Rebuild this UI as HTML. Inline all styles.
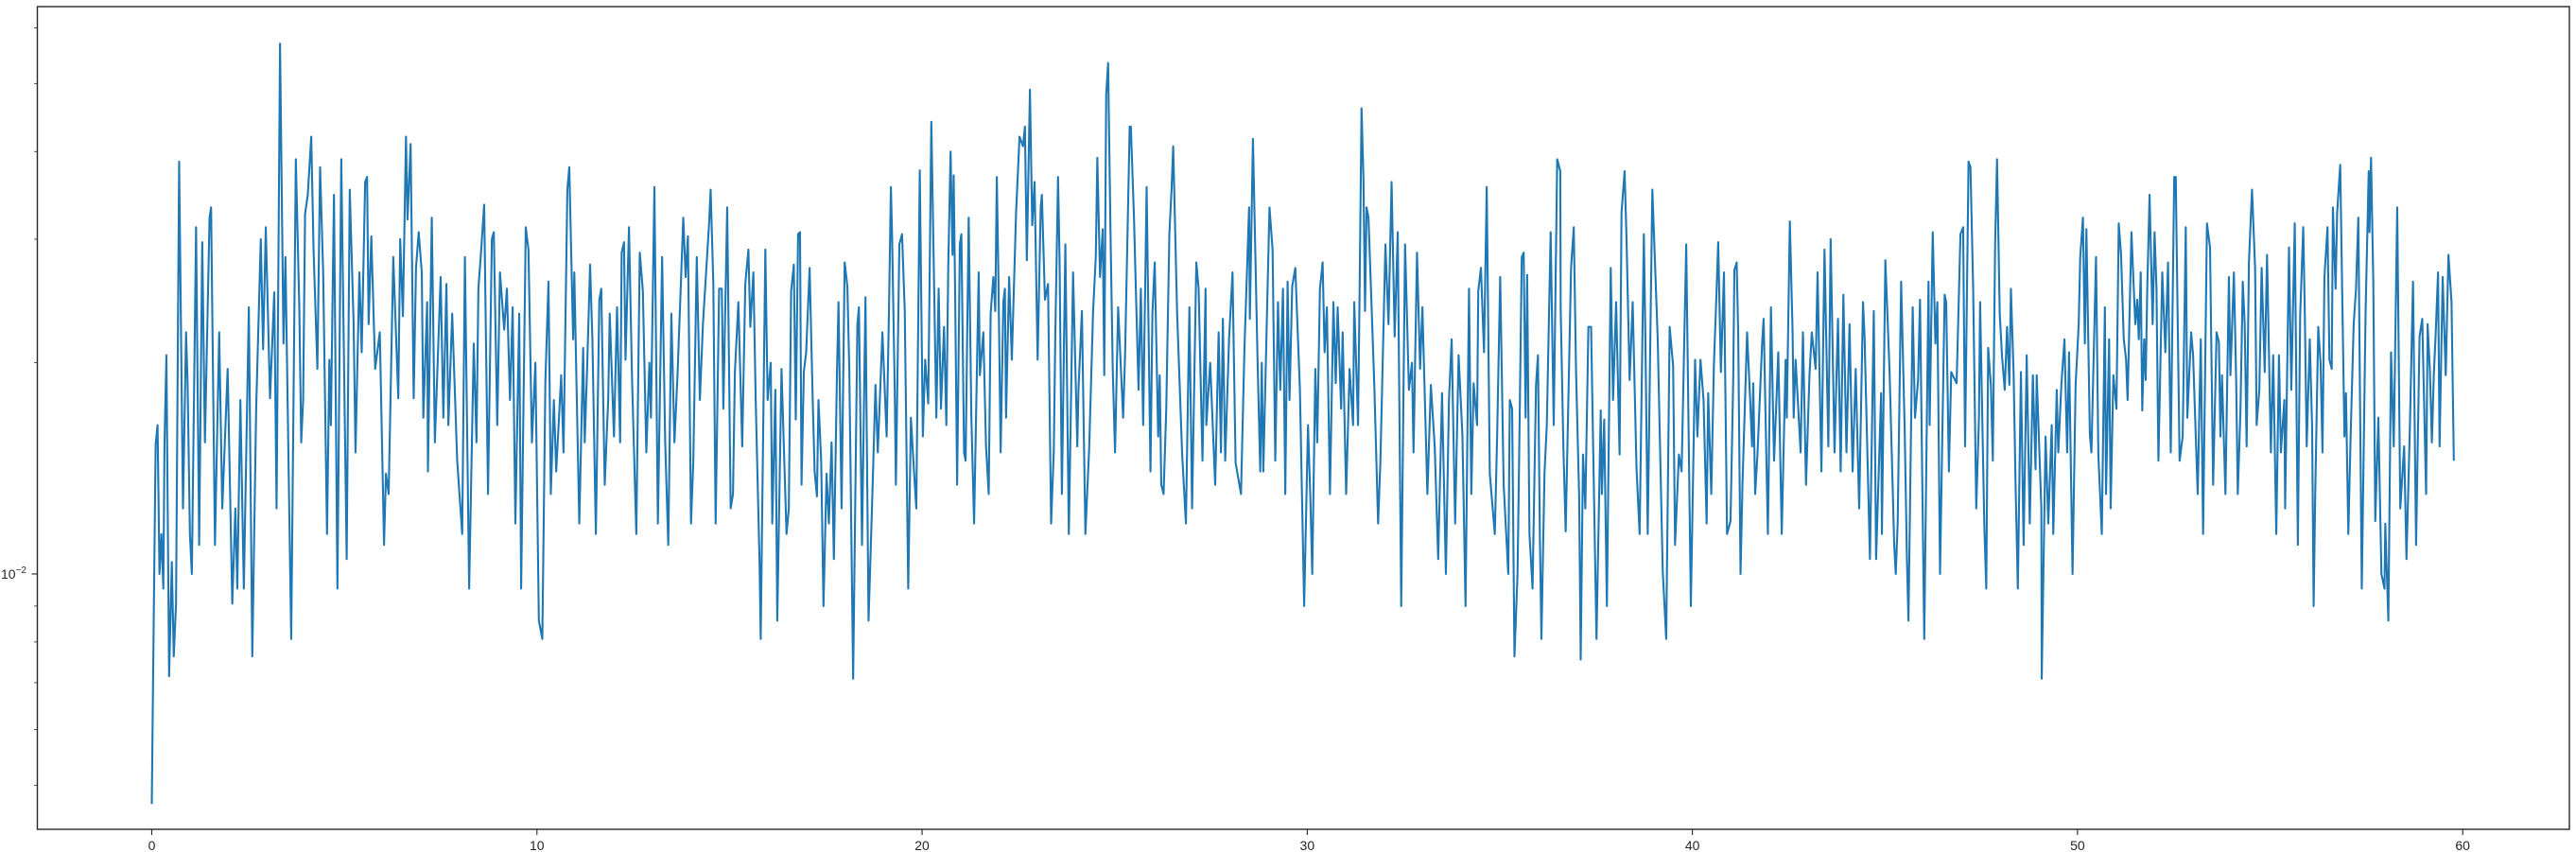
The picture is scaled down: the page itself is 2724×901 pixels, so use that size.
<!DOCTYPE html>
<html><head><meta charset="utf-8"><style>
html,body{margin:0;padding:0;background:#fff;}
svg{display:block;font-family:"Liberation Sans","DejaVu Sans",sans-serif;}
</style></head><body>
<svg id="chart" width="2724" height="901" viewBox="0 0 2724 901" xmlns="http://www.w3.org/2000/svg">
<rect x="0" y="0" width="2724" height="901" fill="#fff"/>
<g id="plot"></g>
</svg>
<script>
const xTicks = [0, 10, 20, 30, 40, 50, 60];
const xTickLabels = ["0", "10", "20", "30", "40", "50", "60"];
const yMinorTicks = [0.005, 0.006, 0.007, 0.008, 0.009, 0.02, 0.03, 0.04, 0.05, 0.06];
const yMajorTicks = [0.01];
const times = [
0.00,0.05,0.10,0.15,0.20,0.25,0.30,0.33,0.38,0.45,0.52,0.57,0.63,0.71,0.81,0.89,0.93,0.99,1.04,1.15,1.23,1.31,1.38,1.50,1.54,1.64,1.75,1.83,1.97,2.09,2.17,2.22,2.30,2.39,2.52,2.61,2.71,2.83,2.89,2.96,3.07,3.18,3.24,3.33,3.42,3.47,3.62,3.74,3.83,3.88,3.93,3.98,4.05,4.14,4.20,4.30,4.37,4.45,4.55,4.61,4.65,4.73,4.82,4.92,5.06,5.14,5.24,5.29,5.39,5.45,5.54,5.59,5.63,5.70,5.80,5.92,5.96,6.03,6.08,6.15,6.27,6.40,6.45,6.52,6.60,6.64,6.72,6.80,6.86,6.93,7.01,7.05,7.15,7.17,7.27,7.35,7.50,7.57,7.65,7.70,7.80,7.93,8.06,8.13,8.24,8.36,8.43,8.48,8.54,8.63,8.73,8.83,8.88,8.97,9.04,9.15,9.22,9.30,9.37,9.44,9.54,9.59,9.71,9.78,9.87,9.96,
10.05,10.14,10.22,10.30,10.36,10.44,10.50,10.56,10.63,10.69,10.79,10.84,10.94,10.97,11.10,11.20,11.24,11.30,11.38,11.44,11.53,11.62,11.67,11.76,11.85,11.89,12.00,12.08,12.16,12.20,12.26,12.30,12.39,12.47,12.58,12.67,12.75,12.84,12.92,12.96,13.05,13.14,13.25,13.33,13.41,13.49,13.57,13.65,13.80,13.86,13.92,14.00,14.06,14.15,14.23,14.31,14.47,14.51,14.58,14.64,14.73,14.80,14.84,14.94,15.03,15.09,15.14,15.23,15.33,15.41,15.49,15.54,15.62,15.68,15.78,15.81,15.93,15.99,16.07,16.11,16.19,16.24,16.35,16.48,16.54,16.60,16.67,16.72,16.78,16.83,16.87,16.93,16.99,17.08,17.16,17.21,17.27,17.31,17.38,17.44,17.52,17.58,17.65,17.71,17.79,17.83,17.91,17.99,18.06,18.11,18.21,18.32,18.36,18.44,18.53,18.61,18.71,18.79,18.85,18.97,19.08,19.14,19.19,19.22,19.29,19.32,19.41,19.48,19.55,19.64,19.71,19.79,19.85,19.94,20.02,20.08,20.16,20.24,
20.37,20.43,20.49,20.57,20.63,20.68,20.74,20.79,20.82,20.86,20.91,20.98,21.02,21.09,21.13,21.21,21.28,21.35,21.47,21.50,21.59,21.66,21.73,21.78,21.85,21.90,21.94,21.98,22.04,22.11,22.15,22.18,22.26,22.33,22.44,22.53,22.62,22.67,22.72,22.80,22.86,22.92,23.00,23.08,23.11,23.19,23.27,23.35,23.42,23.46,23.53,23.57,23.63,23.72,23.81,23.92,24.03,24.06,24.15,24.24,24.34,24.44,24.51,24.55,24.62,24.69,24.73,24.78,24.83,24.89,24.95,25.01,25.09,25.22,25.27,25.39,25.42,25.50,25.62,25.68,25.74,25.83,25.93,25.98,26.04,26.13,26.17,26.21,26.27,26.34,26.42,26.48,26.52,26.62,26.75,26.85,26.94,27.01,27.12,27.18,27.28,27.36,27.38,27.48,27.61,27.70,27.76,27.81,27.87,27.97,28.06,28.14,28.28,28.37,28.49,28.51,28.59,28.71,28.78,28.82,28.86,28.97,29.02,29.10,29.17,29.24,29.30,29.37,29.43,29.49,29.54,29.61,29.69,29.81,29.92,30.02,30.08,30.13,30.21,30.26,30.33,30.40,30.45,30.51,30.59,
30.68,30.74,30.79,30.88,30.92,31.01,31.10,31.19,31.22,31.32,31.36,31.41,31.46,31.50,31.54,31.59,31.74,31.84,31.90,32.03,32.11,32.19,32.27,32.35,32.44,32.54,32.64,32.72,32.76,32.85,32.93,32.99,33.12,33.21,33.31,33.40,33.50,33.60,33.68,33.75,33.84,33.93,34.03,34.11,34.20,34.26,34.32,34.41,34.44,34.51,34.59,34.66,34.74,34.87,34.93,35.01,35.10,35.22,35.26,35.32,35.38,35.46,35.50,35.57,35.62,35.67,35.71,35.77,35.85,35.94,35.99,36.04,36.08,36.16,36.22,36.32,36.40,36.49,36.57,36.58,36.65,36.71,36.81,36.85,36.92,36.98,37.06,37.10,37.16,37.22,37.30,37.37,37.43,37.51,37.62,37.65,37.71,37.78,37.88,37.94,38.02,38.11,38.16,38.24,38.29,38.37,38.45,38.55,38.63,38.74,38.78,38.84,38.96,39.02,39.10,39.23,39.32,39.41,39.50,39.55,39.65,39.72,39.84,39.96,40.07,40.13,40.21,40.29,40.37,40.41,40.49,40.56,40.62,40.67,40.74,40.82,40.90,
40.99,41.06,41.09,41.15,41.19,41.25,41.30,41.42,41.50,41.55,41.58,41.63,41.69,41.81,41.85,41.96,42.04,42.12,42.23,42.32,42.42,42.45,42.53,42.60,42.63,42.68,42.81,42.87,42.95,43.04,43.10,43.20,43.25,43.35,43.43,43.53,43.59,43.69,43.78,43.85,43.92,44.00,44.08,44.16,44.24,44.33,44.43,44.47,44.61,44.71,44.77,44.90,44.92,45.01,45.12,45.24,45.28,45.33,45.42,45.51,45.57,45.61,45.72,45.78,45.86,45.91,46.02,46.13,46.16,46.24,46.31,46.36,46.43,46.55,46.59,46.66,46.72,46.86,46.96,47.03,47.08,47.17,47.22,47.29,47.37,47.44,47.47,47.58,47.63,47.68,47.75,47.80,47.86,47.91,47.98,48.04,48.11,48.17,48.23,48.27,48.34,48.39,48.45,48.53,48.60,48.68,48.76,48.84,48.91,48.94,49.06,49.07,49.17,49.24,49.33,49.37,49.46,49.50,49.58,49.66,49.73,49.78,49.87,49.95,50.03,50.07,50.14,50.19,50.23,50.32,50.36,50.48,50.54,50.63,50.71,50.74,50.82,50.86,50.93,51.01,51.07,51.13,51.20,51.26,
51.30,51.40,51.45,51.50,51.55,51.59,51.64,51.68,51.73,51.77,51.81,51.87,51.95,52.00,52.05,52.10,52.20,52.28,52.35,52.42,52.51,52.55,52.65,52.73,52.81,52.85,52.95,53.00,53.12,53.20,53.26,53.36,53.44,53.52,53.61,53.67,53.71,53.75,53.84,53.93,53.97,54.06,54.12,54.16,54.23,54.29,54.34,54.39,54.45,54.53,54.61,54.65,54.72,54.78,54.86,54.92,55.02,55.08,55.16,55.23,55.28,55.37,55.39,55.49,55.55,55.64,55.72,55.78,55.86,55.90,55.95,56.03,56.09,56.13,56.17,56.25,56.31,56.36,56.41,56.49,56.54,56.60,56.63,56.70,56.74,56.82,56.93,56.97,57.03,57.09,57.17,57.23,57.29,57.38,57.48,57.56,57.58,57.62,57.68,57.73,57.81,57.89,57.97,57.99,58.07,58.14,58.21,58.30,58.38,58.48,58.54,58.63,58.71,58.79,58.88,58.95,59.05,59.09,59.15,59.20,59.25,59.30,59.36,59.40,59.48,59.56,59.63,59.71,59.77
];
const values = [
.00470,.00858,.0153,.0163,.0100,.0114,.00953,.0153,.0205,.00715,.0104,.00763,.00907,.0387,.0124,.0221,.0187,.0114,.0100,.0312,.0110,.0297,.0154,.0322,.0333,.0110,.0221,.0124,.0196,.00907,.0124,.00953,.0177,.00953,.0240,.00763,.0172,.0300,.0209,.0312,.0178,.0252,.0124,.0570,.0213,.0283,.00808,.0390,.0240,.0154,.0177,.0326,.0347,.0420,.0290,.0196,.0380,.0269,.0114,.0202,.0163,.0347,.00953,.0390,.0105,.0353,.0228,.0149,.0269,.0207,.0362,.0368,.0227,.0303,.0196,.0221,.0172,.0110,.0139,.0130,.0283,.0178,.0300,.0233,.0420,.0320,.0410,.0178,.0273,.0307,.0269,.0167,.0244,.0140,.0322,.0154,.0265,.0167,.0259,.0163,.0235,.0145,.0114,.0283,.00953,.0213,.0154,.0255,.0283,.0336,.0130,.0300,.0307,.0163,.0269,.0223,.0255,.0177,.0240,.0118,.0235,.00953,.0312,.0290,.0154,.0200,
.00858,.00808,.0189,.0261,.0130,.0177,.0140,.0162,.0192,.0149,.0353,.0380,.0216,.0269,.0118,.0210,.0154,.0194,.0276,.0216,.0114,.0246,.0255,.0134,.0177,.0235,.0157,.0240,.0154,.0287,.0297,.0202,.0312,.0189,.0114,.0287,.0253,.0149,.0200,.0167,.0356,.0118,.0283,.0154,.0110,.0235,.0154,.0192,.0322,.0265,.0303,.0118,.0145,.0283,.0177,.0227,.0316,.0353,.0259,.0118,.0255,.0255,.0172,.0333,.0124,.0130,.0194,.0244,.0152,.0259,.0290,.0225,.0269,.0177,.0104,.00808,.0290,.0177,.0200,.0118,.0183,.00858,.0196,.0114,.0124,.0253,.0276,.0166,.0305,.0307,.0134,.0194,.0207,.0273,.0177,.0140,.0129,.0177,.0145,.00900,.0139,.0118,.0154,.0105,.0193,.0244,.0124,.0278,.0257,.0196,.00709,.0227,.0240,.0110,.0248,.00858,.0130,.0186,.0149,.0221,.0157,.0237,.0356,.0305,.0183,.0134,.0295,.0305,.0237,.00953,.0167,.0140,.0124,.0376,.0157,.0202,.0175,.0441,
.0167,.0255,.0172,.0225,.0163,.0276,.0400,.0285,.0370,.0246,.0134,.0295,.0305,.0149,.0145,.0322,.0167,.0118,.0269,.0192,.0221,.0152,.0130,.0235,.0265,.0237,.0368,.0269,.0149,.0244,.0255,.0167,.0265,.0202,.0327,.0420,.0407,.0434,.0280,.0490,.0314,.0362,.0202,.0333,.0347,.0246,.0259,.0118,.0150,.0221,.0368,.0280,.0130,.0295,.0114,.0269,.0152,.0183,.0237,.0114,.0152,.0237,.0283,.0392,.0265,.0310,.0192,.0482,.0535,.0312,.0196,.0149,.0240,.0167,.0205,.0434,.0434,.0324,.0183,.0255,.0163,.0356,.0140,.0235,.0278,.0157,.0192,.0134,.0130,.0172,.0305,.0356,.0407,.0237,.0149,.0118,.0240,.0124,.0278,.0255,.0145,.0255,.0163,.0200,.0134,.0221,.0149,.0231,.0145,.0216,.0269,.0144,.0130,.0210,.0333,.0231,.0417,.0202,.0140,.0200,.0140,.0255,.0333,.0290,.0145,.0244,.0183,.0255,.0130,.0261,.0177,.0257,.0273,.0183,.00900,.0163,.0129,.0100,.0196,.0154,.0255,.0278,.0207,.0240,.0130,
.0244,.0187,.0240,.0172,.0221,.0130,.0196,.0163,.0244,.0163,.0255,.0461,.0365,.0237,.0333,.0322,.0187,.0118,.0145,.0295,.0227,.0362,.0218,.0307,.00900,.0295,.0183,.0200,.0149,.0287,.0196,.0240,.0130,.0186,.0152,.0105,.0181,.0100,.0177,.0216,.0118,.0205,.0157,.00900,.0255,.0130,.0187,.0163,.0253,.0273,.0207,.0356,.0139,.0114,.0157,.0265,.0134,.0100,.0177,.0172,.00763,.0100,.0144,.0283,.0287,.0167,.0267,.0114,.00953,.0186,.0205,.0114,.00808,.0139,.0163,.0307,.0163,.0390,.0375,.0240,.0152,.0115,.0213,.0273,.0312,.0194,.0129,.00755,.0148,.0124,.0225,.0225,.0145,.00808,.0171,.0130,.0166,.00900,.0273,.0177,.0244,.0148,.0327,.0375,.0300,.0189,.0244,.0141,.0114,.0305,.0216,.0114,.0353,.0287,.0216,.0101,.00808,.0225,.0198,.0110,.0148,.0140,.0295,.00900,.0202,.0157,.0202,.0177,.0118,.0181,.0130,.0200,.0246,.0297,.0194,.0269,.0114,
.0119,.0189,.0271,.0278,.0219,.0100,.0134,.0221,.0177,.0152,.0187,.0130,.0148,.0213,.0231,.0114,.0240,.0145,.0207,.0114,.0202,.0167,.0318,.0223,.0167,.0202,.0149,.0221,.0134,.0192,.0221,.0196,.0269,.0140,.0290,.0152,.0300,.0149,.0231,.0140,.0250,.0149,.0227,.0140,.0196,.0124,.0244,.0218,.0105,.0237,.0105,.0181,.0114,.0280,.0194,.0110,.0100,.0118,.0261,.0163,.0105,.00858,.0240,.0167,.0189,.0246,.00808,.0261,.0163,.0307,.0213,.0244,.0100,.0250,.0244,.0140,.0194,.0187,.0305,.0312,.0152,.0387,.0380,.0255,.0124,.0167,.0244,.0117,.00953,.0210,.0186,.0145,.0295,.0390,.0235,.0204,.0183,.0225,.0186,.0255,.0194,.0135,.00953,.0194,.0110,.0205,.0118,.0192,.0141,.0192,.0124,.00709,.0157,.0118,.0163,.0114,.0183,.0149,.0186,.0216,.0149,.0207,.0100,.0186,.0227,.0283,.0322,.0213,.0310,.0158,.0149,.0283,.0148,.0114,.0240,.0130,.0216,.0124,.0192,.0172,.0316,.0285,.0216,.0202,
.0177,.0307,.0263,.0227,.0246,.0216,.0269,.0171,.0216,.0189,.0255,.0347,.0227,.0307,.0255,.0145,.0269,.0207,.0278,.0149,.0368,.0368,.0145,.0157,.0312,.0167,.0221,.0205,.0130,.0216,.0114,.0316,.0292,.0134,.0221,.0214,.0157,.0192,.0130,.0265,.0192,.0269,.0187,.0130,.0171,.0261,.0227,.0152,.0278,.0353,.0273,.0163,.0183,.0273,.0194,.0285,.0149,.0205,.0114,.0205,.0149,.0177,.0124,.0292,.0183,.0316,.0110,.0233,.0312,.0237,.0152,.0216,.0162,.00900,.0129,.0225,.0200,.0149,.0265,.0312,.0202,.0196,.0333,.0255,.0327,.0383,.0157,.0181,.0114,.0157,.0227,.0255,.0322,.00953,.0238,.0375,.0307,.0392,.0259,.0119,.0167,.0100,.00953,.0118,.00858,.0207,.0152,.0333,.0124,.0152,.0105,.0163,.0261,.0110,.0218,.0231,.0130,.0227,.0194,.0154,.0192,.0221,.0269,.0152,.0265,.0192,.0285,.0244,.0145
];

const NS = "http://www.w3.org/2000/svg";
const L = 39.5, R = 2717, T = 7, B = 877;
const xMin = -2.971, xMax = 62.77;
const eTop = -1.1914, eBot = -2.3639;
function xs(t){ return L + (t - xMin) / (xMax - xMin) * (R - L); }
function ys(v){ const e = Math.log10(v); return T + (eTop - e) / (eTop - eBot) * (B - T); }

const plot = document.getElementById('plot');
function mk(tag, attrs, parent){
  const el = document.createElementNS(NS, tag);
  for (const k in attrs) el.setAttribute(k, attrs[k]);
  (parent || plot).appendChild(el);
  return el;
}

// data line
let d = "";
for (let i = 0; i < times.length && i < values.length; i++){
  d += (i ? "L" : "M") + xs(times[i]).toFixed(2) + "," + ys(values[i]).toFixed(2);
}
const line = mk('path', {d: d, fill: 'none', stroke: '#1f77b4', 'stroke-width': 2.1, 'stroke-linejoin': 'round'});



// frame
const frame = mk('rect', {x: L, y: T, width: R - L, height: B - T, fill: 'none', stroke: '#262626', 'stroke-width': 1.4});



// x ticks
xTicks.forEach((t, i) => {
  const x = xs(t);
  const tk = mk('line', {x1: x, x2: x, y1: B, y2: B + 6, stroke: '#262626', 'stroke-width': 1.1});
  
  
  const lb = mk('text', {x: x, y: B + 22, 'text-anchor': 'middle', 'font-size': 14, fill: '#262626'});
  lb.textContent = xTickLabels[i];
  
  
});

// y minor ticks
yMinorTicks.forEach(v => {
  const y = ys(v);
  const tk = mk('line', {x1: L - 3.5, x2: L, y1: y, y2: y, stroke: '#262626', 'stroke-width': 0.8});
  
  
});
// y major ticks
yMajorTicks.forEach(v => {
  const y = ys(v);
  const tk = mk('line', {x1: L - 6, x2: L, y1: y, y2: y, stroke: '#262626', 'stroke-width': 1.1});
  
  
  const lb = mk('text', {x: 28, y: y + 5, 'text-anchor': 'end', 'font-size': 14, fill: '#262626'});
  
  
  const base = document.createElementNS(NS, 'tspan');
  base.textContent = '10';
  lb.appendChild(base);
  const sup = document.createElementNS(NS, 'tspan');
  sup.setAttribute('dy', '-6');
  sup.setAttribute('font-size', '10');
  sup.textContent = '\u22122';
  lb.appendChild(sup);
});
</script>
</body></html>
